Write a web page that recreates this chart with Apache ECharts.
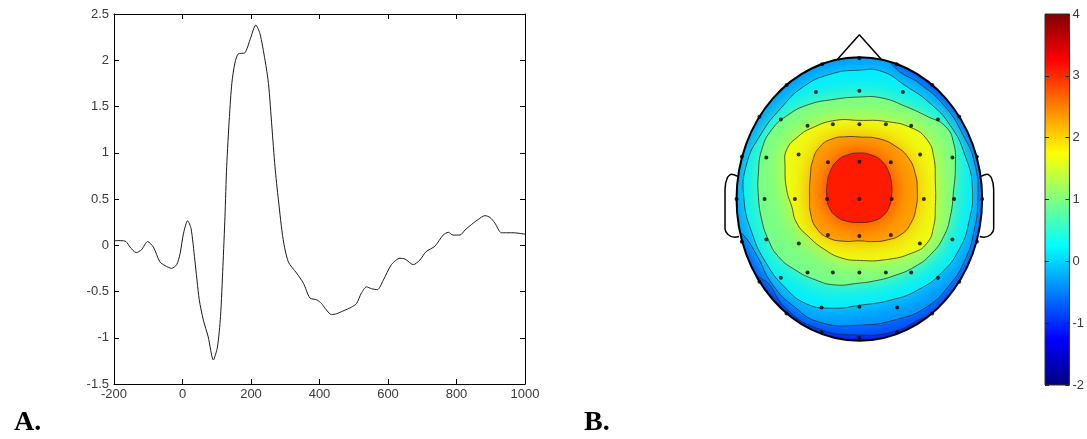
<!DOCTYPE html>
<html>
<head>
<meta charset="utf-8">
<script src="https://cdn.jsdelivr.net/npm/echarts@6/dist/echarts.min.js"></script>
<style>
html, body { margin: 0; background: #fff; }
#main { width: 1087px; height: 439px; }
</style>
</head>
<body>
<div id="main"></div>
<script>
// ---- A. ERP waveform (ms / amplitude) ----
var times = [-200, -180, -165, -153, -135, -120, -102, -85, -66, -51, -32, -17, -7, 3, 15,
    25, 36, 49, 61, 75, 90, 102, 111, 118, 124, 129, 137, 144, 153, 163, 182, 197, 214, 226,
    241, 251, 261, 270, 280, 294, 309, 333, 353, 372, 392, 406, 416, 435, 450, 469, 493, 508,
    522, 537, 552, 569, 586, 610, 635, 650, 674, 693, 711, 737, 761, 776, 790, 810, 825, 849,
    864, 883, 898, 912, 931, 946, 965, 1000];
var amps = [0.05, 0.05, 0.04, -0.02, -0.08, -0.05, 0.04, -0.02, -0.18, -0.22, -0.25, -0.21, -0.09, 0.13, 0.265,
    0.18, -0.16, -0.59, -0.81, -0.99, -1.24, -1.10, -0.77, -0.23, 0.31, 0.85, 1.39, 1.75, 1.97, 2.07, 2.08, 2.22, 2.38, 2.29,
    2.00, 1.75, 1.28, 0.85, 0.49, 0.06, -0.18, -0.30, -0.41, -0.57, -0.59, -0.63, -0.68, -0.75, -0.74, -0.71, -0.67, -0.63,
    -0.52, -0.45, -0.47, -0.48, -0.38, -0.21, -0.14, -0.15, -0.21, -0.16, -0.07, -0.01, 0.11, 0.14, 0.11, 0.11, 0.165, 0.24,
    0.28, 0.32, 0.30, 0.24, 0.135, 0.135, 0.135, 0.12];

// ---- B. scalp map, head radius = 1 ----
var elecX = [0, -0.304, 0.304, -0.593, 0.593, -0.354, 0, 0.354,
    -0.814, 0.814, -0.64, 0.64, -0.422, 0.422, -0.216, 0, 0.216,
    -0.957, 0.957, -0.758, 0.758, -0.495, 0.495, -0.256, 0, 0.256,
    -1.0, -0.772, -0.525, -0.263, 0, 0.263, 0.525, 0.772, 1.0,
    -0.957, 0.957, -0.758, 0.758, -0.493, 0.493, -0.256, 0, 0.256,
    -0.814, 0.814, -0.64, 0.64, -0.422, 0.422, -0.216, 0, 0.216,
    -0.593, 0.593, -0.308, 0, 0.308, -0.308, 0.308, 0];
var elecY = [0.993, 0.951, 0.951, 0.805, 0.805, 0.755, 0.765, 0.755,
    0.581, 0.581, 0.562, 0.562, 0.518, 0.518, 0.527, 0.527, 0.527,
    0.299, 0.299, 0.294, 0.294, 0.315, 0.315, 0.259, 0.264, 0.259,
    0, 0, 0, 0, 0, 0, 0, 0, 0,
    -0.301, -0.301, -0.285, -0.285, -0.313, -0.313, -0.254, -0.261, -0.254,
    -0.584, -0.584, -0.555, -0.555, -0.518, -0.518, -0.518, -0.518, -0.518,
    -0.807, -0.807, -0.765, -0.76, -0.765, -0.94, -0.94, -0.98];

var contourLevels = [2.6, 2.0, 1.4, 0.8, 0.2, -0.4, -1.0];
var contour1 = [[0, 0.325], [0.1, 0.31], [0.18, 0.27], [0.235, 0.2], [0.262, 0.11], [0.262, 0.02], [0.24, -0.06],
    [0.19, -0.12], [0.11, -0.155], [0, -0.165], [-0.11, -0.155], [-0.19, -0.12], [-0.245, -0.06], [-0.265, 0.02],
    [-0.262, 0.11], [-0.235, 0.2], [-0.18, 0.27], [-0.1, 0.31]];
var contour2 = [[0, 0.438], [0.16, 0.425], [0.3, 0.37], [0.4, 0.29], [0.455, 0.18], [0.472, 0.06], [0.462, -0.06],
    [0.42, -0.17], [0.34, -0.25], [0.22, -0.29], [0.1, -0.3], [0, -0.295], [-0.12, -0.298], [-0.25, -0.275],
    [-0.345, -0.21], [-0.395, -0.11], [-0.405, 0.02], [-0.4, 0.15], [-0.38, 0.27], [-0.32, 0.37], [-0.22, 0.425],
    [-0.1, 0.44]];
var contour3 = [[0, 0.555], [0.212, 0.548], [0.429, 0.501], [0.551, 0.419], [0.605, 0.301], [0.619, 0.113],
    [0.619, -0.052], [0.605, -0.193], [0.551, -0.311], [0.429, -0.381], [0.212, -0.428], [0, -0.433],
    [-0.144, -0.416], [-0.28, -0.358], [-0.415, -0.264], [-0.51, -0.169], [-0.551, -0.052], [-0.592, 0.066],
    [-0.605, 0.231], [-0.592, 0.348], [-0.497, 0.442], [-0.388, 0.501], [-0.198, 0.555]];
var contour4 = [[0, 0.72], [0.185, 0.713], [0.375, 0.654], [0.551, 0.584], [0.7, 0.513], [0.768, 0.395],
    [0.782, 0.231], [0.768, 0.066], [0.741, -0.122], [0.687, -0.264], [0.592, -0.381], [0.456, -0.475],
    [0.266, -0.546], [0.104, -0.581], [0, -0.593], [-0.198, -0.606], [-0.361, -0.569], [-0.524, -0.499],
    [-0.66, -0.405], [-0.741, -0.287], [-0.795, -0.146], [-0.822, 0.019], [-0.822, 0.184], [-0.795, 0.348],
    [-0.714, 0.489], [-0.578, 0.595], [-0.415, 0.666], [-0.225, 0.701]];
var contour5 = [[0, 0.91], [0.185, 0.9], [0.375, 0.8], [0.57, 0.68], [0.74, 0.52], [0.86, 0.31], [0.92, 0.08],
    [0.89, -0.17], [0.81, -0.36], [0.67, -0.52], [0.48, -0.64], [0.27, -0.71], [0, -0.75], [-0.22, -0.77],
    [-0.43, -0.74], [-0.61, -0.62], [-0.76, -0.45], [-0.87, -0.25], [-0.94, 0], [-0.92, 0.24], [-0.8, 0.46],
    [-0.64, 0.64], [-0.46, 0.79], [-0.24, 0.88]];
// open contours, they leave the head; the "Out" points close the region outside it
var contour6 = [[-1.1, -0.15], [-0.95, -0.25], [-0.84, -0.39], [-0.71, -0.6], [-0.53, -0.76], [-0.32, -0.87],
    [0, -0.89], [0.3, -0.85], [0.55, -0.76], [0.74, -0.6], [0.86, -0.43], [0.93, -0.24], [0.965, 0],
    [0.94, 0.25], [0.84, 0.46], [0.7, 0.65], [0.5, 0.81], [0.3, 0.92], [0.15, 1.1]];
var contour6Out = [[-1.4, 1.4], [-1.4, -0.15]];
var contour7 = [[-1.1, -0.55], [-0.8, -0.56], [-0.6, -0.77], [-0.35, -0.91], [0, -0.96], [0.3, -0.93],
    [0.55, -0.83], [0.8, -0.8]];
var contour7Out = [[1.4, -0.8], [1.4, 1.4], [-1.4, 1.4], [-1.4, -0.55]];
// colour of the head, then of the regions inside contour 7 ... contour 1
var bandValues = [-1.5, -0.9, -0.4, 0.15, 0.95, 1.65, 2.3, 3.1];

var nose = [[-0.18, 0.985], [0, 1.16], [0.18, 0.985]];
var earRight = [[0.99, 0.16], [1.04, 0.175], [1.075, 0.15], [1.094, 0.07], [1.094, -0.21], [1.07, -0.25], [1.015, -0.27], [0.98, -0.265]];
var earLeft = [[-0.99, 0.16], [-1.04, 0.175], [-1.075, 0.15], [-1.094, 0.07], [-1.094, -0.21], [-1.07, -0.25], [-1.015, -0.27], [-0.98, -0.265]];

// colour bar
var cbRange = [-2, 4];
var jet = ['#000080', '#0000ff', '#0080ff', '#00ffff', '#80ff80', '#ffff00', '#ff8000', '#ff0000', '#800000'];

var bandShapes = [null, contour7.concat(contour7Out), contour6.concat(contour6Out),
    contour5, contour4, contour3, contour2, contour1];
var lineShapes = [contour1, contour2, contour3, contour4, contour5, contour6, contour7];

function headClip(api) {
    var c = api.coord([0, 0]);
    var s = api.size([1, 1]);
    return {type: 'ellipse', shape: {cx: c[0], cy: c[1], rx: s[0], ry: s[1]}};
}

var tickFont = {color: '#3a3a3a', fontSize: 13, fontFamily: '"Liberation Sans Narrow", "Liberation Sans", sans-serif'};
var black = {color: '#000', width: 1};
var plain = function (v) { return String(v); };

var myChart = echarts.init(document.getElementById('main'));
var option = {
    backgroundColor: '#fff',
    animation: false,
    title: [
        {text: 'A.', left: 9, top: 404, textStyle: {fontFamily: 'Liberation Serif', fontWeight: 'bold', fontSize: 28, color: '#000'}},
        {text: 'B.', left: 579, top: 404, textStyle: {fontFamily: 'Liberation Serif', fontWeight: 'bold', fontSize: 28, color: '#000'}}
    ],
    visualMap: {
        type: 'continuous', show: false, min: cbRange[0], max: cbRange[1],
        dimension: 1, seriesIndex: 1, inRange: {color: jet}
    },
    grid: [
        {left: 114, top: 14, width: 411, height: 370},
        {left: 712, top: 29, width: 294.7, height: 340.1},
        {left: 1045, top: 14, width: 25, height: 371}
    ],
    xAxis: [
        {gridIndex: 0, type: 'value', min: -200, max: 1000, interval: 200, position: 'bottom',
            axisLine: {onZero: false, lineStyle: black}, axisTick: {inside: true, length: 5, lineStyle: black},
            axisLabel: Object.assign({margin: 4, formatter: plain}, tickFont), splitLine: {show: false}},
        {gridIndex: 0, type: 'value', min: -200, max: 1000, interval: 200, position: 'top',
            axisLine: {onZero: false, lineStyle: black}, axisTick: {inside: true, length: 5, lineStyle: black},
            axisLabel: {show: false}, splitLine: {show: false}},
        {gridIndex: 1, type: 'value', min: -1.2, max: 1.2, show: false},
        {gridIndex: 2, type: 'value', min: 0, max: 1, show: false}
    ],
    yAxis: [
        {gridIndex: 0, type: 'value', min: -1.5, max: 2.5, interval: 0.5, position: 'left',
            axisLine: {show: true, onZero: false, lineStyle: black}, axisTick: {show: true, inside: true, length: 5, lineStyle: black},
            axisLabel: Object.assign({margin: 5, formatter: plain}, tickFont), splitLine: {show: false}},
        {gridIndex: 0, type: 'value', min: -1.5, max: 2.5, interval: 0.5, position: 'right',
            axisLine: {show: true, onZero: false, lineStyle: black}, axisTick: {show: true, inside: true, length: 5, lineStyle: black},
            axisLabel: {show: false}, splitLine: {show: false}},
        {gridIndex: 1, type: 'value', min: -1.2, max: 1.2, show: false},
        {gridIndex: 2, type: 'value', min: cbRange[0], max: cbRange[1], interval: 1, position: 'left', z: 5,
            axisLine: {show: false}, axisTick: {show: true, inside: true, length: 4, lineStyle: {color: '#222'}},
            axisLabel: {show: false}, splitLine: {show: false}},
        {gridIndex: 2, type: 'value', min: cbRange[0], max: cbRange[1], interval: 1, position: 'right', z: 5,
            axisLine: {show: false}, axisTick: {show: true, inside: true, length: 4, lineStyle: {color: '#222'}},
            axisLabel: Object.assign({margin: 3, formatter: plain}, tickFont), splitLine: {show: false}}
    ],
    series: [
        {
            type: 'line', xAxisIndex: 0, yAxisIndex: 0,
            data: times.map(function (t, i) { return [t, amps[i]]; }),
            showSymbol: false, smooth: 0.25,
            lineStyle: {color: '#1a1a1a', width: 1}
        },
        {   // filled regions of the scalp map
            type: 'custom', xAxisIndex: 2, yAxisIndex: 2, silent: true, z: 1,
            data: bandValues.map(function (v, i) { return [i, v]; }),
            renderItem: function (params, api) {
                var i = api.value(0);
                var color = api.visual('color');
                if (!bandShapes[i]) {
                    var c = api.coord([0, 0]);
                    var s = api.size([1, 1]);
                    return {type: 'ellipse', z2: i, shape: {cx: c[0], cy: c[1], rx: s[0], ry: s[1]},
                        style: {fill: color}, clipPath: headClip(api)};
                }
                return {
                    type: 'polygon', z2: i, clipPath: headClip(api),
                    shape: {points: bandShapes[i].map(function (p) { return api.coord(p); }), smooth: 0.5},
                    style: {fill: color, shadowBlur: 26, shadowColor: color}
                };
            }
        },
        {   // contour lines
            type: 'custom', xAxisIndex: 2, yAxisIndex: 2, silent: true, z: 2,
            data: contourLevels.map(function (v, i) { return [i, v]; }),
            renderItem: function (params, api) {
                var i = api.value(0);
                return {
                    type: i < 5 ? 'polygon' : 'polyline', clipPath: headClip(api),
                    shape: {points: lineShapes[i].map(function (p) { return api.coord(p); }), smooth: 0.5},
                    style: {fill: null, stroke: '#2a2a2a', lineWidth: 0.9, opacity: 0.85}
                };
            }
        },
        {   // head outline
            type: 'custom', xAxisIndex: 2, yAxisIndex: 2, silent: true, z: 3,
            data: [[0, 0]],
            renderItem: function (params, api) {
                var c = api.coord([api.value(0), api.value(1)]);
                var s = api.size([1, 1]);
                return {type: 'ellipse', shape: {cx: c[0], cy: c[1], rx: s[0], ry: s[1]},
                    style: {fill: null, stroke: '#000', lineWidth: 2}};
            }
        },
        {type: 'line', xAxisIndex: 2, yAxisIndex: 2, data: nose, showSymbol: false, z: 3,
            lineStyle: {color: '#000', width: 1.5}},
        {type: 'line', xAxisIndex: 2, yAxisIndex: 2, data: earRight, showSymbol: false, smooth: 0.3, z: 3,
            lineStyle: {color: '#000', width: 1.5}},
        {type: 'line', xAxisIndex: 2, yAxisIndex: 2, data: earLeft, showSymbol: false, smooth: 0.3, z: 3,
            lineStyle: {color: '#000', width: 1.5}},
        {
            type: 'scatter', xAxisIndex: 2, yAxisIndex: 2, z: 4, silent: true,
            data: elecX.map(function (x, i) { return [x, elecY[i]]; }),
            symbol: 'circle', symbolSize: 4, itemStyle: {color: '#000'}
        },
        {   // colour bar
            type: 'custom', xAxisIndex: 3, yAxisIndex: 3, silent: true, z: 1,
            data: [[0, cbRange[0], 1, cbRange[1]]],
            renderItem: function (params, api) {
                var p0 = api.coord([api.value(0), api.value(3)]);
                var p1 = api.coord([api.value(2), api.value(1)]);
                var stops = jet.map(function (c, i) { return {offset: 1 - i / (jet.length - 1), color: c}; }).reverse();
                return {
                    type: 'rect',
                    shape: {x: p0[0], y: p0[1], width: p1[0] - p0[0], height: p1[1] - p0[1]},
                    style: {fill: new echarts.graphic.LinearGradient(0, 0, 0, 1, stops), stroke: '#333', lineWidth: 1}
                };
            }
        }
    ]
};
myChart.setOption(option);
</script>
</body>
</html>
